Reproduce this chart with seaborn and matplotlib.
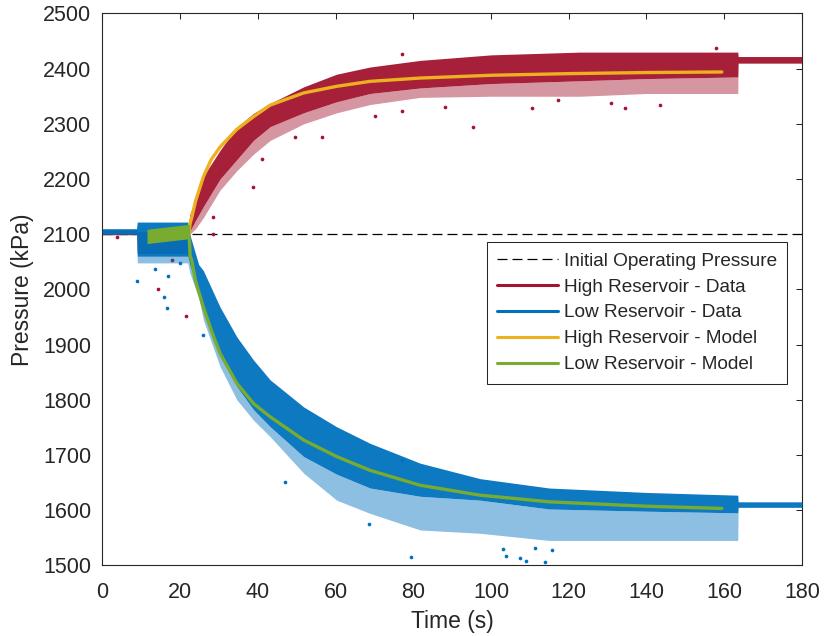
import numpy as np
import pandas as pd
import matplotlib
matplotlib.use("Agg")
import matplotlib.pyplot as plt
from matplotlib.lines import Line2D
import seaborn as sns

# ---------------- data ----------------
# High reservoir data: envelope of the dense scatter (time, top, dense bottom, sparse bottom)
high_t      = [0, 8.9, 9.0, 22, 22.5, 24, 26, 30.3, 34.6, 38.9, 43.2, 51.8, 60.3, 68.9, 81.8, 100, 122.9, 140, 163.5, 163.6, 180]
high_top    = [2108, 2108, 2105, 2105, 2135, 2165, 2205, 2252, 2294, 2319, 2337, 2367, 2390, 2403, 2415, 2425, 2430, 2430, 2430, 2422, 2422]
high_dense  = [2099, 2099, 2065, 2065, 2105, 2125, 2150, 2200, 2235, 2270, 2295, 2320, 2340, 2355, 2365, 2373, 2378, 2382, 2385, 2410, 2410]
high_sparse = [2099, 2099, 2065, 2065, 2100, 2110, 2130, 2180, 2215, 2245, 2270, 2300, 2320, 2335, 2348, 2350, 2350, 2355, 2355, 2410, 2410]

# Low reservoir data envelope
low_t      = [0, 8.8, 9.0, 22.0, 22.5, 24.8, 26, 30.3, 34.6, 38.9, 43.2, 51.8, 60.3, 68.9, 81.8, 97.2, 115, 140, 163.5, 163.6, 180]
low_top    = [2110, 2110, 2122, 2122, 2100, 2045, 2034, 1968, 1914, 1872, 1836, 1787, 1751, 1721, 1685, 1657, 1640, 1632, 1627, 1615, 1615]
low_dense  = [2100, 2100, 2060, 2060, 2045, 1995, 1962, 1884, 1824, 1782, 1751, 1697, 1665, 1640, 1625, 1618, 1602, 1598, 1595, 1605, 1605]
low_sparse = [2100, 2100, 2048, 2048, 2030, 1985, 1945, 1860, 1800, 1763, 1733, 1667, 1618, 1594, 1564, 1558, 1545, 1545, 1545, 1605, 1605]

# Scattered outlying data points
high_out_t = [38.9, 41, 49.6, 56.5, 70.2, 77, 77, 88.2, 95.3, 110.5, 131, 134.5, 143.5, 117.3, 158, 28.5, 28.6, 14.4, 21.5, 17.9, 9.7, 3.7]
high_out_p = [2186, 2237, 2276, 2276, 2315, 2324, 2426, 2331, 2295, 2329, 2337, 2328, 2334, 2344, 2437, 2131, 2101, 2000, 1951, 2053, 2080, 2095]
low_out_t = [8.8, 16.6, 15.9, 13.6, 17, 20, 47, 26, 68.5, 79.3, 103.2, 103.9, 111.4, 109, 114, 115.7, 77, 107.5]
low_out_p = [2016, 1966, 1987, 2037, 2025, 2047, 1651, 1917, 1575, 1515, 1529, 1517, 1532, 1508, 1506, 1528, 1690, 1513]

# Models
high_model_t = [22.2, 22.6, 23, 24, 26, 28, 30.3, 34.6, 38.9, 43.2, 51.8, 60.3, 68.9, 81.8, 100, 120, 140, 159.4]
high_model_p = [2095, 2120, 2130, 2160, 2204, 2235, 2258, 2290, 2313, 2334, 2356, 2368, 2377, 2383, 2388, 2391, 2393, 2394]
low_model_t = [22.4, 22.6, 23, 24, 26, 28.2, 30.3, 34.6, 38.9, 43.2, 51.8, 60.3, 68.9, 81.8, 97.2, 115, 140, 159.4]
low_model_p = [2090, 2060, 2053, 2015, 1968, 1923, 1884, 1830, 1793, 1769, 1727, 1697, 1672, 1645, 1627, 1615, 1607, 1603]
# Low model oscillation band before the step
low_osc_t   = [11.5, 22.5]
low_osc_bot = [2083, 2092]
low_osc_top = [2109, 2118]

initial_pressure = 2100
x_ticks = [0, 20, 40, 60, 80, 100, 120, 140, 160, 180]
y_ticks = [1500, 1600, 1700, 1800, 1900, 2000, 2100, 2200, 2300, 2400, 2500]

legend_labels = ["Initial Operating Pressure", "High Reservoir - Data", "Low Reservoir - Data",
                 "High Reservoir - Model", "Low Reservoir - Model"]

# ---------------- style ----------------
RED = "#A2142F"
BLUE = "#0072BD"
ORANGE = "#EDB120"
GREEN = "#77AC30"
AX = "#262626"

sns.set_theme(style="white")
plt.rcParams["font.family"] = ["Liberation Sans", "DejaVu Sans"]

fig = plt.figure(figsize=(8.25, 6.36), dpi=100)
ax = fig.add_axes([0.124, 0.1112, 0.848, 0.8676])

# dashed reference line
ax.axhline(initial_pressure, color="black", lw=0.9, dashes=(8, 4), zorder=1)

# high reservoir data
ax.fill_between(high_t, high_sparse, high_dense, color=RED, alpha=0.45, lw=0, zorder=2)
ax.fill_between(high_t, high_dense, high_top, color=RED, alpha=0.95, lw=0, zorder=2)
sns.scatterplot(x=high_out_t, y=high_out_p, color=RED, s=7, linewidth=0, ax=ax, zorder=2)

# low reservoir data
ax.fill_between(low_t, low_sparse, low_dense, color=BLUE, alpha=0.45, lw=0, zorder=3)
ax.fill_between(low_t, low_dense, low_top, color=BLUE, alpha=0.95, lw=0, zorder=3)
sns.scatterplot(x=low_out_t, y=low_out_p, color=BLUE, s=7, linewidth=0, ax=ax, zorder=3)

# models
hm = pd.DataFrame({"t": high_model_t, "p": high_model_p})
lm = pd.DataFrame({"t": low_model_t, "p": low_model_p})
sns.lineplot(data=hm, x="t", y="p", color=ORANGE, lw=2.4, ax=ax, estimator=None, sort=False, zorder=4)
ax.fill_between(low_osc_t, low_osc_bot, low_osc_top, color=GREEN, lw=0, zorder=5)
sns.lineplot(data=lm, x="t", y="p", color=GREEN, lw=2.4, ax=ax, estimator=None, sort=False, zorder=5)

# axes
ax.set_xlim(0, 180)
ax.set_ylim(1500, 2500)
ax.set_xticks(x_ticks)
ax.set_yticks(y_ticks)
ax.tick_params(direction="in", length=4.5, width=0.75, colors=AX, labelsize=15.5,
               top=True, right=True, pad=8)
ax.tick_params(axis="x", pad=12)
for sp in ax.spines.values():
    sp.set_color(AX)
    sp.set_linewidth(0.8)
ax.set_xlabel("Time (s)", fontsize=16.5, color=AX, labelpad=5)
ax.set_ylabel("Pressure (kPa)", fontsize=16.5, color=AX, labelpad=6)
ax.grid(False)

handles = [
    Line2D([], [], color="black", lw=0.9, dashes=(8, 4)),
    Line2D([], [], color=RED, lw=2.2),
    Line2D([], [], color=BLUE, lw=2.2),
    Line2D([], [], color=ORANGE, lw=2.2),
    Line2D([], [], color=GREEN, lw=2.2),
]
leg = ax.legend(handles, legend_labels, loc="upper right", bbox_to_anchor=(0.979, 0.586),
                borderaxespad=0, fontsize=13.7, handlelength=3.2, handletextpad=0.3,
                labelspacing=0.45, borderpad=0.55, frameon=True, fancybox=False,
                framealpha=1, edgecolor=AX)
leg.get_frame().set_linewidth(0.75)
for txt in leg.get_texts():
    txt.set_color(AX)

fig.savefig("out.png", dpi=100)
